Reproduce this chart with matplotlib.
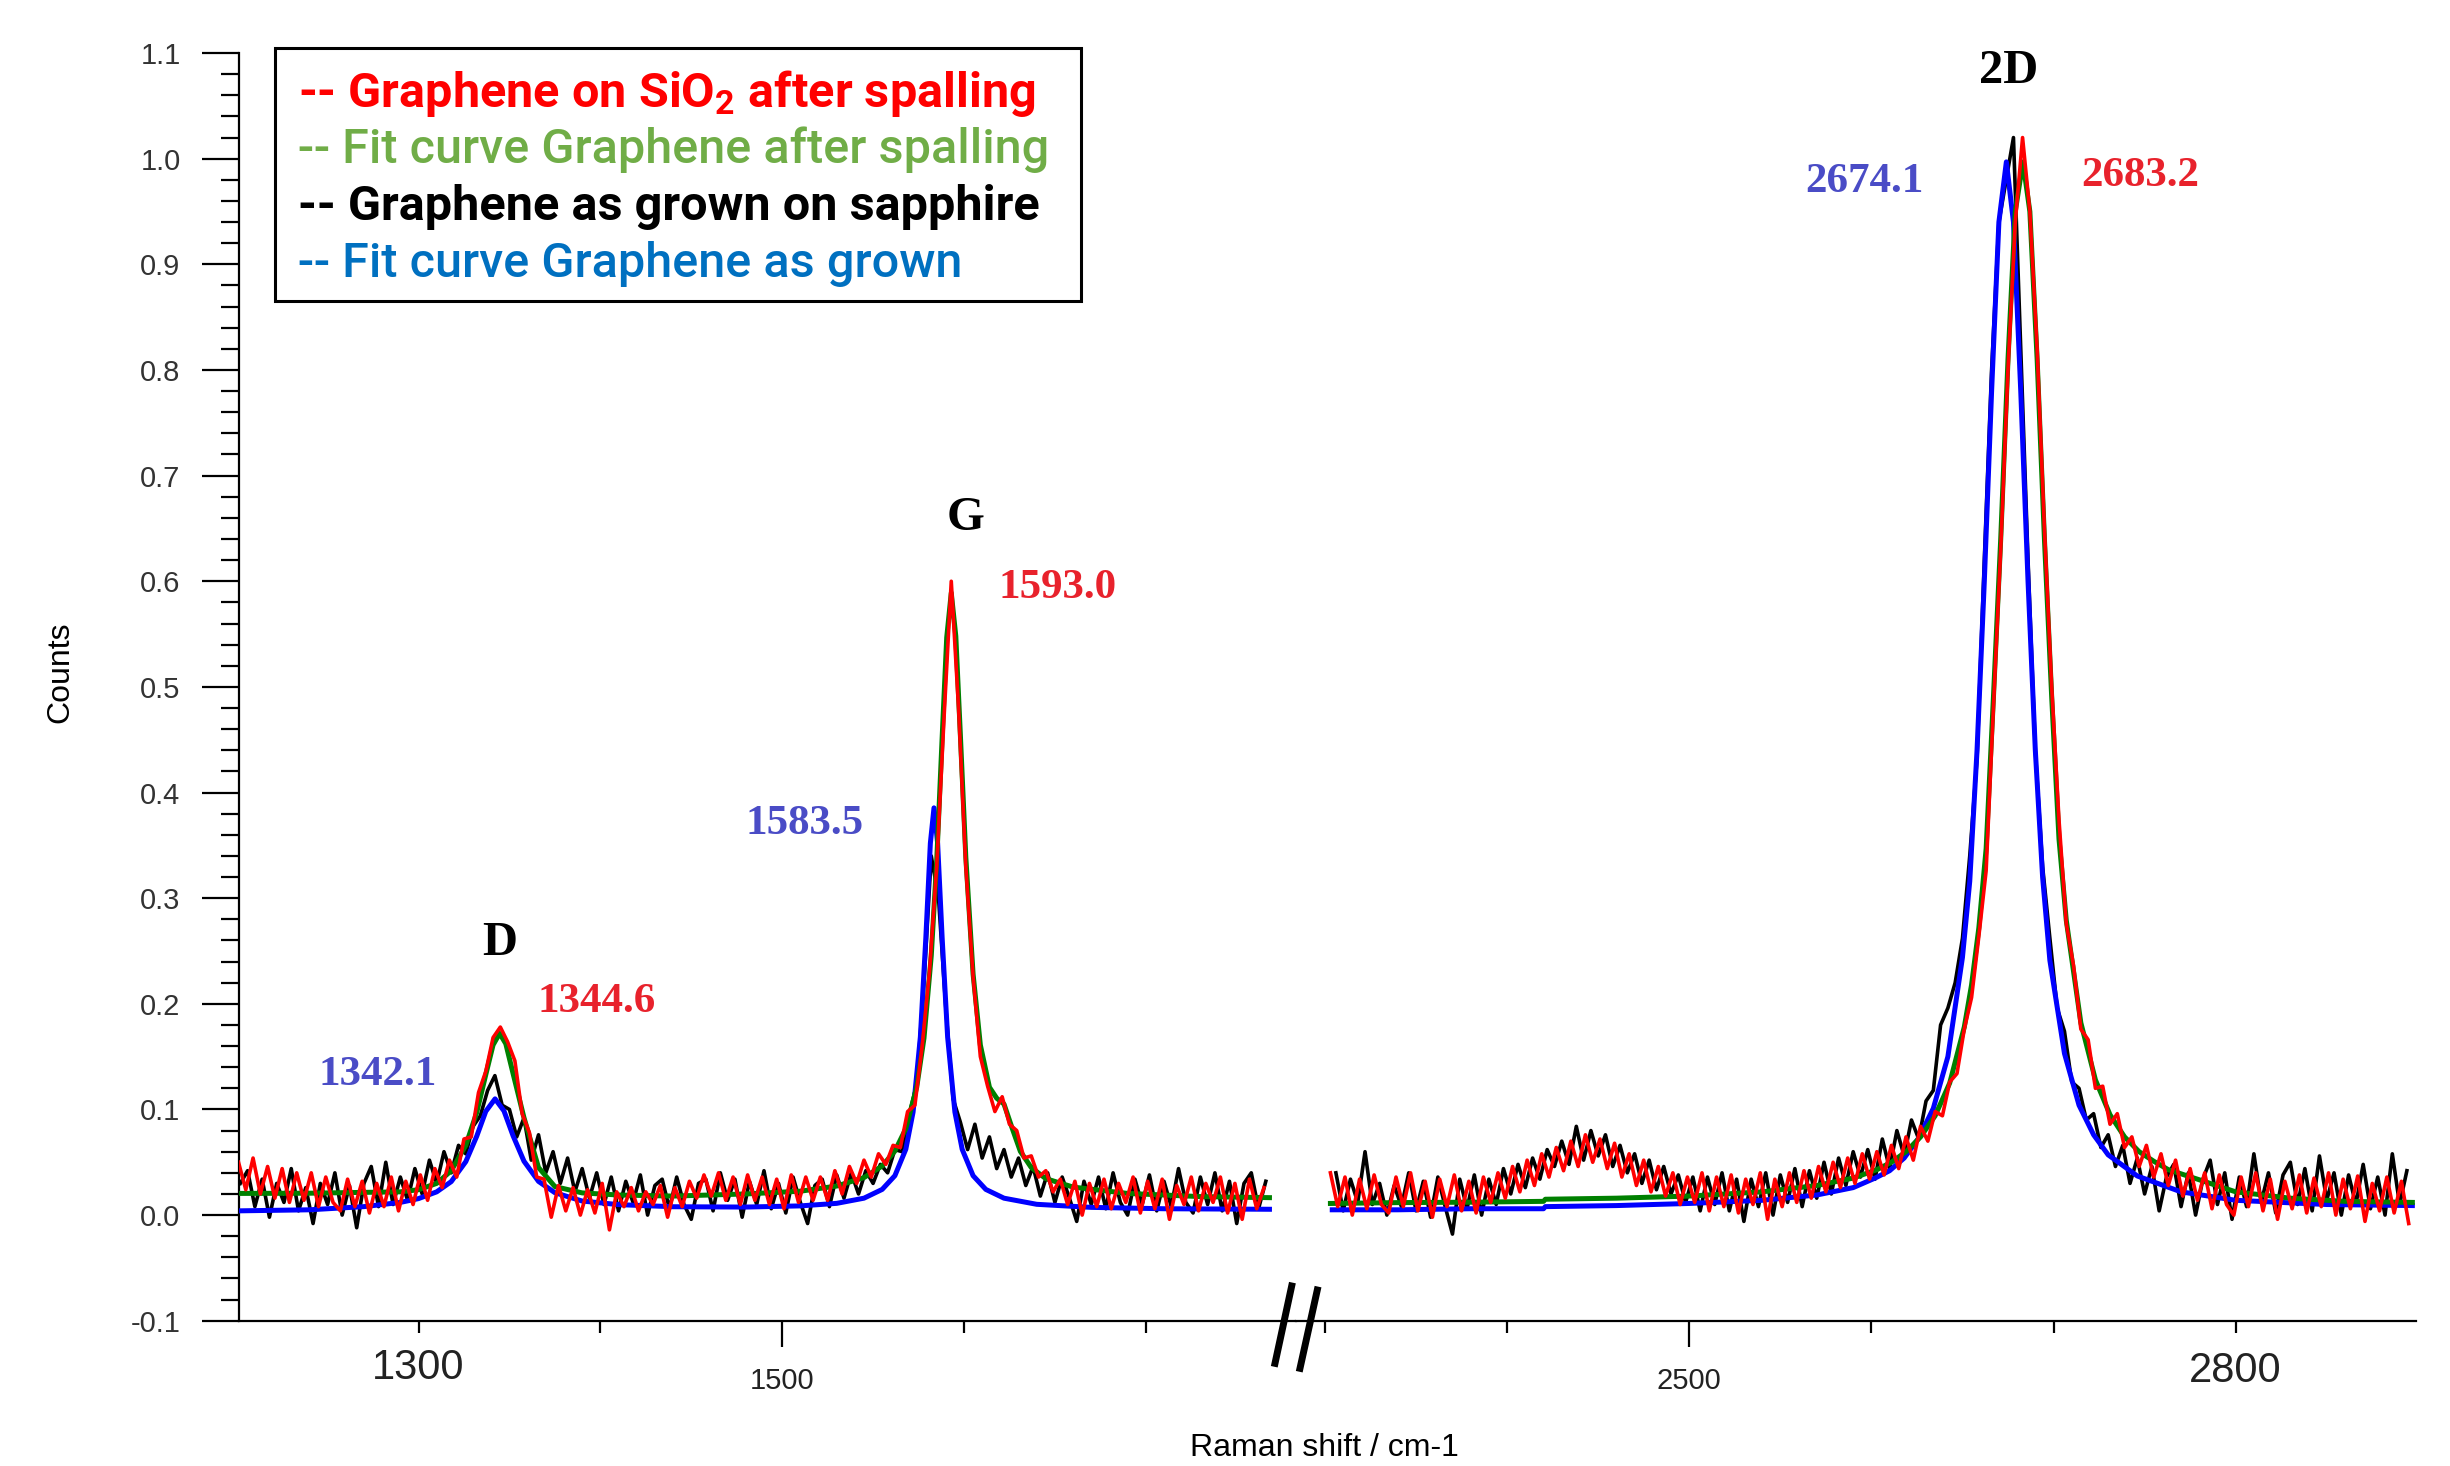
import numpy as np
import matplotlib
matplotlib.use("Agg")
import matplotlib.pyplot as plt
from matplotlib.lines import Line2D
from matplotlib.patches import Rectangle
from matplotlib.ticker import FixedLocator, MultipleLocator, FormatStrFormatter

plt.rcParams['font.family'] = 'Liberation Sans'
plt.rcParams['axes.unicode_minus'] = False
plt.rcParams['mathtext.fontset'] = 'custom'
plt.rcParams['mathtext.rm'] = 'Roboto:bold'
plt.rcParams['mathtext.it'] = 'Roboto:bold'
plt.rcParams['mathtext.bf'] = 'Roboto:bold'

# ---- raw spectra, sampled every 4 cm-1 (values read off the figure) ----
# graphene as grown on sapphire, D/G window, first point at 1202 cm-1
grown_low_start = 1202
grown_low = [
    .030, .042, .008, .034, -.002, .030, .012, .044, .004, .026,
    -.008, .030, .010, .040, .000, .028, -.012, .030, .046, .008,
    .050, .010, .036, .014, .044, .020, .052, .030, .060, .040,
    .066, .058, .084, .094, .118, .132, .104, .100, .074, .092,
    .052, .076, .040, .060, .030, .054, .022, .044, .016, .040,
    .010, .036, .004, .032, .012, .038, .000, .028, .034, .006,
    .036, .010, -.004, .030, .034, .004, .040, .014, .034, -.002,
    .032, .010, .042, .006, .030, .002, .036, .012, -.008, .028,
    .034, .008, .038, .016, .040, .020, .042, .030, .048, .040,
    .062, .060, .096, .124, .220, .340, .300, .196, .110, .088,
    .062, .086, .054, .074, .044, .062, .036, .054, .028, .046,
    .018, .040, .012, .036, .016, -.006, .032, .010, .036, .006,
    .040, .012, .000, .034, .010, .038, .004, .032, .008, .044,
    .012, .002, .036, .010, .040, .004, .032, -.008, .030, .040,
    .006, .032,
]
# graphene on SiO2 after spalling, D/G window, first point at 1201 cm-1
spall_low_start = 1201
spall_low = [
    .050, .024, .054, .020, .046, .016, .044, .012, .040, .014,
    .040, .008, .036, .012, .004, .034, .008, .032, .002, .030,
    .008, .036, .004, .032, .010, .038, .014, .044, .026, .052,
    .036, .072, .074, .116, .136, .168, .178, .164, .146, .096,
    .078, .036, .034, -.002, .028, .004, .026, .000, .024, .002,
    .030, -.014, .022, .008, .026, .004, .022, .010, .028, -.002,
    .026, .008, .032, .016, .038, .018, .040, .014, .036, .010,
    .038, .014, .036, .010, .034, .006, .038, .012, .036, .014,
    .036, .014, .042, .020, .046, .030, .052, .036, .058, .048,
    .066, .064, .098, .104, .160, .230, .330, .470, .600, .480,
    .330, .226, .150, .122, .098, .112, .086, .080, .054, .056,
    .036, .042, .022, .034, .010, .032, .000, .030, .008, .034,
    .006, .030, .012, .036, .002, .032, .006, .034, -.004, .028,
    .010, .036, .004, .030, .012, .036, .002, .030, -.004, .034,
    .006, .026,
]
# as grown, 2D window, first point at 2306 cm-1
grown_high_start = 2306
grown_high = [
    .040, .004, .034, .012, .060, .010, .030, .000, .028, .008,
    .040, .004, .032, -.002, .036, .008, -.018, .034, .006, .038,
    .000, .034, .010, .044, .020, .048, .026, .054, .034, .062,
    .046, .070, .048, .084, .052, .080, .056, .076, .046, .066,
    .040, .058, .030, .052, .024, .046, .020, .038, .012, .036,
    .004, .036, .010, .040, .004, .034, -.006, .034, .008, .040,
    .000, .038, .012, .044, .008, .042, .016, .050, .020, .054,
    .028, .060, .036, .062, .034, .072, .044, .080, .056, .090,
    .072, .108, .118, .180, .196, .220, .262, .340, .432, .620,
    .800, .940, .980, 1.020, .820, .620, .440, .330, .262, .196,
    .174, .126, .120, .090, .096, .064, .076, .046, .066, .030,
    .054, .020, .046, .004, .036, .048, .008, .040, .000, .034,
    .052, .010, .040, -.004, .036, .008, .058, .012, .040, .002,
    .038, .050, .010, .044, .004, .056, .014, .040, .000, .038,
    .010, .048, .006, .036, .000, .058, .010, .042,
]
# after spalling, 2D window, first point at 2303 cm-1
spall_high_start = 2303
spall_high = [
    .040, .008, .036, .000, .034, .006, .038, .010, .002, .036,
    .008, .040, .004, .032, -.002, .034, .008, .038, .004, .032,
    .002, .036, .012, .040, .016, .046, .022, .052, .028, .058,
    .036, .064, .042, .070, .046, .076, .050, .072, .044, .068,
    .036, .058, .028, .052, .022, .046, .018, .040, .010, .036,
    .012, .040, .004, .036, .008, .038, .002, .034, .010, .040,
    -.004, .034, .008, .040, .012, .042, .016, .046, .022, .050,
    .026, .054, .030, .058, .034, .060, .038, .066, .044, .074,
    .052, .084, .070, .098, .094, .126, .134, .176, .206, .264,
    .326, .480, .630, .800, .940, 1.020, .950, .820, .650, .500,
    .374, .276, .236, .176, .166, .120, .122, .086, .096, .064,
    .074, .046, .066, .036, .058, .028, .052, .018, .044, .014,
    .040, .006, .038, .010, .000, .036, .008, .040, .004, .034,
    -.004, .032, .006, .038, .002, .035, .008, .040, .000, .034,
    .006, .037, -.006, .030, .004, .036, .002, .032, -.008,
]

# ---- fit curves ----
fit_grown_low_x = [1201, 1240, 1270, 1290, 1300, 1310, 1318, 1326, 1332, 1337,
                   1342.1, 1347, 1352, 1358, 1366, 1375, 1390, 1410, 1440, 1480,
                   1510, 1530, 1545, 1555, 1562, 1568, 1572, 1576, 1579, 1581.5,
                   1583.5, 1585.5, 1588, 1591, 1595, 1599, 1605, 1612, 1622, 1640,
                   1670, 1710, 1768]
fit_grown_low_y = [0.004, 0.005, 0.008, 0.012, 0.0156, 0.022, 0.0317, 0.0506, 0.0746, 0.0982,
                   0.110, 0.0986, 0.0751, 0.051, 0.0319, 0.0212, 0.0133, 0.0099, 0.0079, 0.0076,
                   0.0087, 0.0111, 0.016, 0.0243, 0.0373, 0.0623, 0.0975, 0.1685, 0.262, 0.352,
                   0.3855, 0.352, 0.262, 0.1685, 0.0975, 0.0623, 0.0373, 0.0243, 0.016, 0.0102,
                   0.0073, 0.006, 0.0055]

fit_spall_low_x = [1201, 1240, 1270, 1290, 1300, 1310, 1318, 1326, 1332, 1337,
                   1341, 1344.6, 1348, 1352, 1358, 1366, 1375, 1390, 1410, 1440,
                   1480, 1510, 1530, 1545, 1555, 1562, 1568, 1574, 1578, 1582,
                   1585, 1588, 1590.5, 1593, 1595.5, 1598, 1601, 1605, 1609, 1614,
                   1618, 1622, 1626, 1631, 1637, 1645, 1660, 1690, 1730, 1768]
fit_spall_low_y = [0.0205, 0.0207, 0.0215, 0.022, 0.024, 0.030, 0.042, 0.066, 0.097, 0.133,
                   0.161, 0.172, 0.1622, 0.134, 0.0922, 0.045, 0.027, 0.021, 0.019, 0.018,
                   0.020, 0.0226, 0.0275, 0.0355, 0.0465, 0.0606, 0.0818, 0.121, 0.1675, 0.2455,
                   0.3354, 0.4526, 0.5468, 0.589, 0.548, 0.4549, 0.3389, 0.2282, 0.161, 0.121,
                   0.1106, 0.1051, 0.0847, 0.0603, 0.045, 0.0345, 0.0265, 0.0205, 0.0175, 0.0165]

fit_grown_high_x = [2304, 2340, 2380, 2420, 2421, 2460, 2500, 2540, 2570, 2590,
                    2602, 2610, 2618, 2626, 2634, 2642, 2650, 2654, 2658, 2662,
                    2666, 2670, 2674.1, 2678, 2682, 2686, 2690, 2694, 2698, 2706,
                    2714, 2722, 2730, 2746, 2770, 2800, 2850, 2897]
fit_grown_high_y = [0.005, 0.005, 0.006, 0.006, 0.008, 0.009, 0.011, 0.014, 0.019, 0.026,
                    0.035, 0.042, 0.054, 0.073, 0.101, 0.150, 0.244, 0.316, 0.440, 0.600,
                    0.780, 0.940, 0.997, 0.940, 0.780, 0.600, 0.440, 0.320, 0.241, 0.153,
                    0.104, 0.076, 0.057, 0.037, 0.022, 0.014, 0.010, 0.009]

fit_spall_high_x = [2303, 2340, 2380, 2420, 2421, 2460, 2500, 2540, 2570, 2590,
                    2603, 2611, 2619, 2627, 2635, 2643, 2651, 2655, 2659, 2663,
                    2667, 2671, 2675, 2679, 2683.2, 2687, 2691, 2695, 2699, 2703,
                    2707, 2715, 2723, 2731, 2739, 2747, 2755, 2763, 2779, 2800,
                    2830, 2860, 2897]
fit_spall_high_y = [0.011, 0.0118, 0.0122, 0.013, 0.015, 0.016, 0.018, 0.022, 0.028, 0.035,
                    0.043, 0.050, 0.060, 0.074, 0.094, 0.125, 0.178, 0.218, 0.272, 0.347,
                    0.490, 0.640, 0.810, 0.950, 0.997, 0.950, 0.810, 0.640, 0.490, 0.356,
                    0.279, 0.182, 0.128, 0.095, 0.074, 0.060, 0.051, 0.043, 0.034, 0.022,
                    0.016, 0.013, 0.012]

# peak annotations
peak_names = ['D', 'G', '2D']
peak_name_pos = [(1344.8, 0.258), (1600.8, 0.660), (2675.4, 1.083)]
grown_peaks = ['1342.1', '1583.5', '2674.1']
grown_peak_pos = [(1277.8, 0.1325), (1512.4, 0.370), (2596.3, 0.978)]
spall_peaks = ['1344.6', '1593.0', '2683.2']
spall_peak_pos = [(1398.1, 0.202), (1651.5, 0.594), (2747.5, 0.984)]

legend_labels = ['Graphene on SiO$_2$ after spalling', 'Fit curve Graphene after spalling',
                 'Graphene as grown on sapphire', 'Fit curve Graphene as grown']


def on_grid(start, values):
    return start + 4 * np.arange(len(values))


fig = plt.figure(figsize=(24.5, 14.66), dpi=100)
split = 0.52898
ax1 = fig.add_axes([0.0975, 0.0991, split - 0.0975, 0.8647])
ax2 = fig.add_axes([split, 0.0991, 0.98612 - split, 0.8647], sharey=ax1)

RED, GREEN, BLACK, BLUE = '#ff0000', '#008000', '#000000', '#0000ff'
LW_RAW, LW_FIT = 2.6, 3.6

ax1.plot(on_grid(grown_low_start, grown_low), grown_low, color=BLACK, lw=LW_RAW, zorder=2)
ax1.plot(fit_grown_low_x, fit_grown_low_y, color=BLUE, lw=LW_FIT, zorder=3)
ax1.plot(fit_spall_low_x, fit_spall_low_y, color=GREEN, lw=LW_FIT, zorder=4)
ax1.plot(on_grid(spall_low_start, spall_low), spall_low, color=RED, lw=LW_RAW, zorder=5)

ax2.plot(on_grid(grown_high_start, grown_high), grown_high, color=BLACK, lw=LW_RAW, zorder=2)
ax2.plot(fit_grown_high_x, fit_grown_high_y, color=BLUE, lw=LW_FIT, zorder=3)
ax2.plot(fit_spall_high_x, fit_spall_high_y, color=GREEN, lw=LW_FIT, zorder=4)
ax2.plot(on_grid(spall_high_start, spall_high), spall_high, color=RED, lw=LW_RAW, zorder=5)

ax1.set_xlim(1201.2, 1782.6)
ax2.set_xlim(2284.1, 2899.0)
ax1.set_ylim(-0.1, 1.1)

ax1.yaxis.set_major_locator(MultipleLocator(0.1))
ax1.yaxis.set_minor_locator(MultipleLocator(0.02))
ax1.yaxis.set_major_formatter(FormatStrFormatter('%.1f'))
ax1.xaxis.set_major_locator(FixedLocator([1500]))
ax1.xaxis.set_minor_locator(MultipleLocator(100))
ax2.xaxis.set_major_locator(FixedLocator([2500]))
ax2.xaxis.set_minor_locator(MultipleLocator(100))

for ax in (ax1, ax2):
    for s in ('top', 'right'):
        ax.spines[s].set_visible(False)
    for s in ('left', 'bottom'):
        ax.spines[s].set_linewidth(1.6)
    ax.tick_params(axis='x', which='major', length=19, width=1.6, labelbottom=False)
    ax.tick_params(axis='x', which='minor', length=8.5, width=1.6)
ax2.spines['left'].set_visible(False)
ax2.tick_params(axis='y', which='both', left=False, labelleft=False)
ax1.tick_params(axis='y', which='major', length=27, width=1.6, pad=15,
                labelsize=21, labelcolor='#333333')
ax1.tick_params(axis='y', which='minor', length=13, width=1.6)

# x tick labels (mixed sizes as in the original)
narrow = ['Liberation Sans Narrow', 'Liberation Sans']
ax1.text(1300, -0.0373, '1300', transform=ax1.get_xaxis_transform(), ha='center', va='center',
         fontsize=30, family=narrow, color='#222222')
ax1.text(1500, -0.0474, '1500', transform=ax1.get_xaxis_transform(), ha='center', va='center',
         fontsize=21, color='#222222')
ax2.text(2500, -0.0474, '2500', transform=ax2.get_xaxis_transform(), ha='center', va='center',
         fontsize=21, color='#222222')
ax2.text(2800, -0.0397, '2800', transform=ax2.get_xaxis_transform(), ha='center', va='center',
         fontsize=30, family=narrow, color='#222222')

# peak labels
axes_for = [ax1, ax1, ax2]
for ax, name, (x, y) in zip(axes_for, peak_names, peak_name_pos):
    ax.text(x, y, name, ha='center', va='center', fontsize=35, fontweight='bold',
            family='Liberation Serif', color='black')
for ax, s, (x, y) in zip(axes_for, grown_peaks, grown_peak_pos):
    ax.text(x, y, s, ha='center', va='center', fontsize=31, fontweight='bold',
            family='Liberation Serif', color='#4a4cc6')
for ax, s, (x, y) in zip(axes_for, spall_peaks, spall_peak_pos):
    ax.text(x, y, s, ha='center', va='center', fontsize=31, fontweight='bold',
            family='Liberation Serif', color='#e8222c')

# axis titles
fig.text(0.0245, 0.5416, 'Counts', rotation=90, ha='center', va='center', fontsize=23)
fig.text(0.5404, 0.012, 'Raman shift / cm-1', ha='center', va='center', fontsize=23)

# axis break marks
fig.add_artist(Line2D([0.52722, 0.52041], [0.12278, 0.07003], transform=fig.transFigure,
                      color='black', lw=5, zorder=10))
fig.add_artist(Line2D([0.53767, 0.53061], [0.12005, 0.06664], transform=fig.transFigure,
                      color='black', lw=5, zorder=10))

# legend box
fig.add_artist(Rectangle((0.1122, 0.7947), 0.329, 0.1726, transform=fig.transFigure,
                         facecolor='white', edgecolor='black', lw=2.2, zorder=10))
leg_colors = [RED, '#70ad47', BLACK, '#0070c0']
leg_weights = ['bold', 'medium', 'bold', 'medium']
leg_y = [0.927, 0.8888, 0.8499, 0.811]
for lab, c, w, y in zip(legend_labels, leg_colors, leg_weights, leg_y):
    fig.text(0.1217, y, '-- ' + lab, color=c, fontweight=w, family='Roboto', fontsize=35,
             ha='left', va='baseline', zorder=11)

fig.savefig('out.png', dpi=100)
